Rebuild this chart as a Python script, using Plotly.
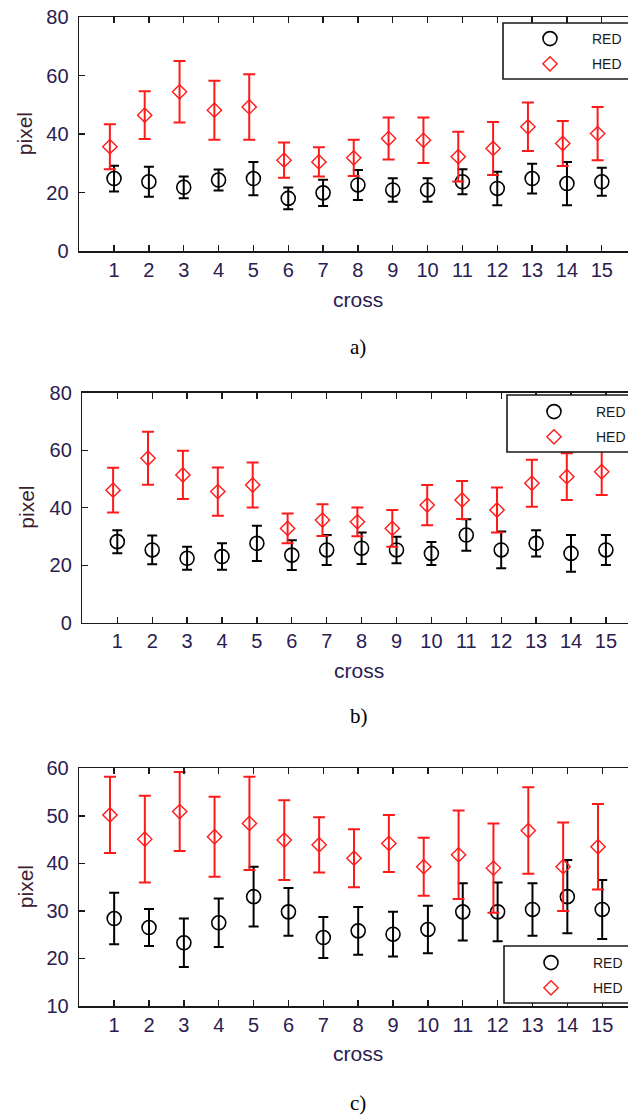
import plotly.graph_objects as go

# ---------------- data ----------------
cross = list(range(1, 16))

a_red_mean = [24.8, 23.7, 21.8, 24.3, 24.8, 18.0, 19.9, 22.6, 20.9, 20.9, 23.7, 21.4, 24.8, 23.1, 23.7]
a_red_err = [4.4, 5.1, 3.7, 3.6, 5.7, 3.7, 4.5, 5.1, 4.0, 4.0, 4.3, 5.7, 5.1, 7.4, 4.8]
a_hed_mean = [35.7, 46.5, 54.5, 48.2, 49.3, 31.1, 30.5, 31.9, 38.5, 37.9, 32.3, 35.1, 42.5, 36.8, 40.2]
a_hed_err = [7.7, 8.2, 10.5, 10.1, 11.2, 6.0, 5.0, 6.2, 7.2, 7.8, 8.5, 9.1, 8.3, 7.7, 9.1]

b_red_mean = [28.2, 25.3, 22.4, 23.0, 27.6, 23.5, 25.3, 25.9, 25.3, 24.1, 30.5, 25.3, 27.6, 24.1, 25.3]
b_red_err = [4.0, 5.0, 4.0, 4.6, 6.1, 5.2, 5.2, 5.5, 4.6, 4.0, 5.5, 6.4, 4.6, 6.4, 5.2]
b_hed_mean = [46.1, 57.2, 51.4, 45.6, 47.9, 32.8, 35.7, 35.1, 32.8, 40.9, 42.7, 39.2, 48.5, 50.8, 52.5]
b_hed_err = [7.8, 9.2, 8.4, 8.4, 7.8, 5.2, 5.5, 5.0, 6.4, 7.0, 6.6, 7.8, 8.2, 8.1, 8.1]

c_red_mean = [28.4, 26.5, 23.3, 27.5, 33.0, 29.8, 24.4, 25.8, 25.1, 26.1, 29.8, 29.8, 30.3, 33.0, 30.3]
c_red_err = [5.4, 3.9, 5.1, 5.1, 6.3, 5.0, 4.3, 5.0, 4.7, 5.0, 6.0, 6.2, 5.5, 7.7, 6.2]
c_hed_mean = [50.2, 45.1, 50.9, 45.6, 48.4, 44.9, 43.9, 41.1, 44.2, 39.3, 41.8, 39.0, 46.9, 39.3, 43.5]
c_hed_err = [8.0, 9.1, 8.3, 8.4, 9.8, 8.4, 5.8, 6.1, 6.0, 6.1, 9.3, 9.4, 9.1, 9.3, 9.0]

a_yticks = [0, 20, 40, 60, 80]
b_yticks = [0, 20, 40, 60, 80]
c_yticks = [10, 20, 30, 40, 50, 60]

captions = ["a)", "b)", "c)"]
series_names = ["RED", "HED"]

# ---------------- layout ----------------
W, H = 628, 1117
TXT = "#2a2050"
hed_shift = -0.12

panels = [
    dict(red=(a_red_mean, a_red_err), hed=(a_hed_mean, a_hed_err), yticks=a_yticks,
         left=79.2, top=17.3, bottom=251.0, step=34.84,
         box=(503, 23, 79), leg_top=23,
         cap_y=347, title_y=300, pix_x=24),
    dict(red=(b_red_mean, b_red_err), hed=(b_hed_mean, b_hed_err), yticks=b_yticks,
         left=82.4, top=392.7, bottom=622.7, step=34.9,
         box=(507, 395, 452), leg_top=396,
         cap_y=716, title_y=670, pix_x=27),
    dict(red=(c_red_mean, c_red_err), hed=(c_hed_mean, c_hed_err), yticks=c_yticks,
         left=79.3, top=768.3, bottom=1006.0, step=34.86,
         box=(504, 946, 1003), leg_top=947,
         cap_y=1103, title_y=1053, pix_x=25),
]

fig = go.Figure()
annotations = []
shapes = []
layout = dict(
    width=W, height=H,
    margin=dict(l=0, r=0, t=0, b=0, autoexpand=False),
    paper_bgcolor="white", plot_bgcolor="white",
    font=dict(family="Liberation Sans, Arial", color=TXT, size=20),
)

for i, p in enumerate(panels):
    n = "" if i == 0 else str(i + 1)
    xa, ya = "x" + n, "y" + n
    leg = "legend" + n
    hed_x = [c + hed_shift for c in cross]

    fig.add_trace(go.Scatter(
        x=cross, y=p["red"][0], xaxis=xa, yaxis=ya, mode="markers", name=series_names[0],
        legend=leg, legendgroup="red" + n,
        marker=dict(symbol="circle-open", size=14, color="black", line=dict(width=1.6, color="black")),
        error_y=dict(type="data", array=p["red"][1], color="black", thickness=2, width=5),
    ))
    fig.add_trace(go.Scatter(
        x=hed_x, y=p["hed"][0], xaxis=xa, yaxis=ya, mode="markers", name=series_names[1],
        legend=leg, legendgroup="hed" + n,
        marker=dict(symbol="diamond-open", size=11, color="#ff1a1a", line=dict(width=1.4, color="#ff1a1a")),
        error_y=dict(type="data", array=p["hed"][1], color="#ff1a1a", thickness=2, width=6),
    ))

    xmax = (W - p["left"]) / p["step"]
    layout["xaxis" + n] = dict(
        domain=[p["left"] / W, 1], range=[0, xmax], anchor=ya,
        tickvals=cross, ticktext=[str(c) for c in cross],
        showline=True, linecolor="#1a1a1a", linewidth=1.6, mirror="ticks",
        ticks="inside", ticklen=6, tickwidth=1.4, tickcolor="#1a1a1a",
        showgrid=False, zeroline=False, ticklabelstandoff=0,
        tickfont=dict(size=20, color=TXT),
    )
    y0, y1 = p["yticks"][0], p["yticks"][-1]
    layout["yaxis" + n] = dict(
        domain=[1 - p["bottom"] / H, 1 - p["top"] / H], range=[y0, y1], anchor=xa,
        tickvals=p["yticks"],
        showline=True, linecolor="#1a1a1a", linewidth=1.6, mirror=False,
        ticks="inside", ticklen=6, tickwidth=1.4, tickcolor="#1a1a1a",
        showgrid=False, zeroline=False, ticklabelstandoff=5,
        tickfont=dict(size=20, color=TXT),
    )
    # legend box: runs past the right edge of the picture, as in the reference
    bx, by0, by1 = p["box"]
    shapes.append(dict(
        type="rect", xref="paper", yref="paper", layer="above",
        x0=bx / W, x1=1.05, y0=1 - by1 / H, y1=1 - by0 / H,
        fillcolor="white", line=dict(color="#1a1a1a", width=1.6),
    ))
    layout[leg] = dict(
        x=(bx + 5) / W, y=1 - p["leg_top"] / H, xanchor="left", yanchor="top",
        bgcolor="rgba(0,0,0,0)", borderwidth=0,
        font=dict(size=14, color="#1a1a1a"), itemwidth=74, tracegroupgap=4,
    )

    center_x = (p["left"] + W + 8) / 2
    annotations.append(dict(
        text="cross", x=center_x / W, y=1 - p["title_y"] / H, xref="paper", yref="paper",
        showarrow=False, font=dict(size=21, color=TXT), xanchor="center", yanchor="middle",
    ))
    annotations.append(dict(
        text="pixel", x=p["pix_x"] / W, y=1 - (p["top"] + p["bottom"]) / 2 / H,
        xref="paper", yref="paper", showarrow=False, textangle=-90,
        font=dict(size=21, color="#3a2030"), xanchor="center", yanchor="middle",
    ))
    annotations.append(dict(
        text=captions[i], x=center_x / W, y=1 - p["cap_y"] / H, xref="paper", yref="paper",
        showarrow=False, font=dict(size=21, color="black", family="Liberation Serif, Times New Roman"),
        xanchor="center", yanchor="middle",
    ))

layout["annotations"] = annotations
layout["shapes"] = shapes
fig.update_layout(**layout)
fig.write_html(
    "out.html",
    config={"displayModeBar": False, "staticPlot": True},
    post_script="document.body.style.margin='0';document.body.style.overflow='hidden';",
)
